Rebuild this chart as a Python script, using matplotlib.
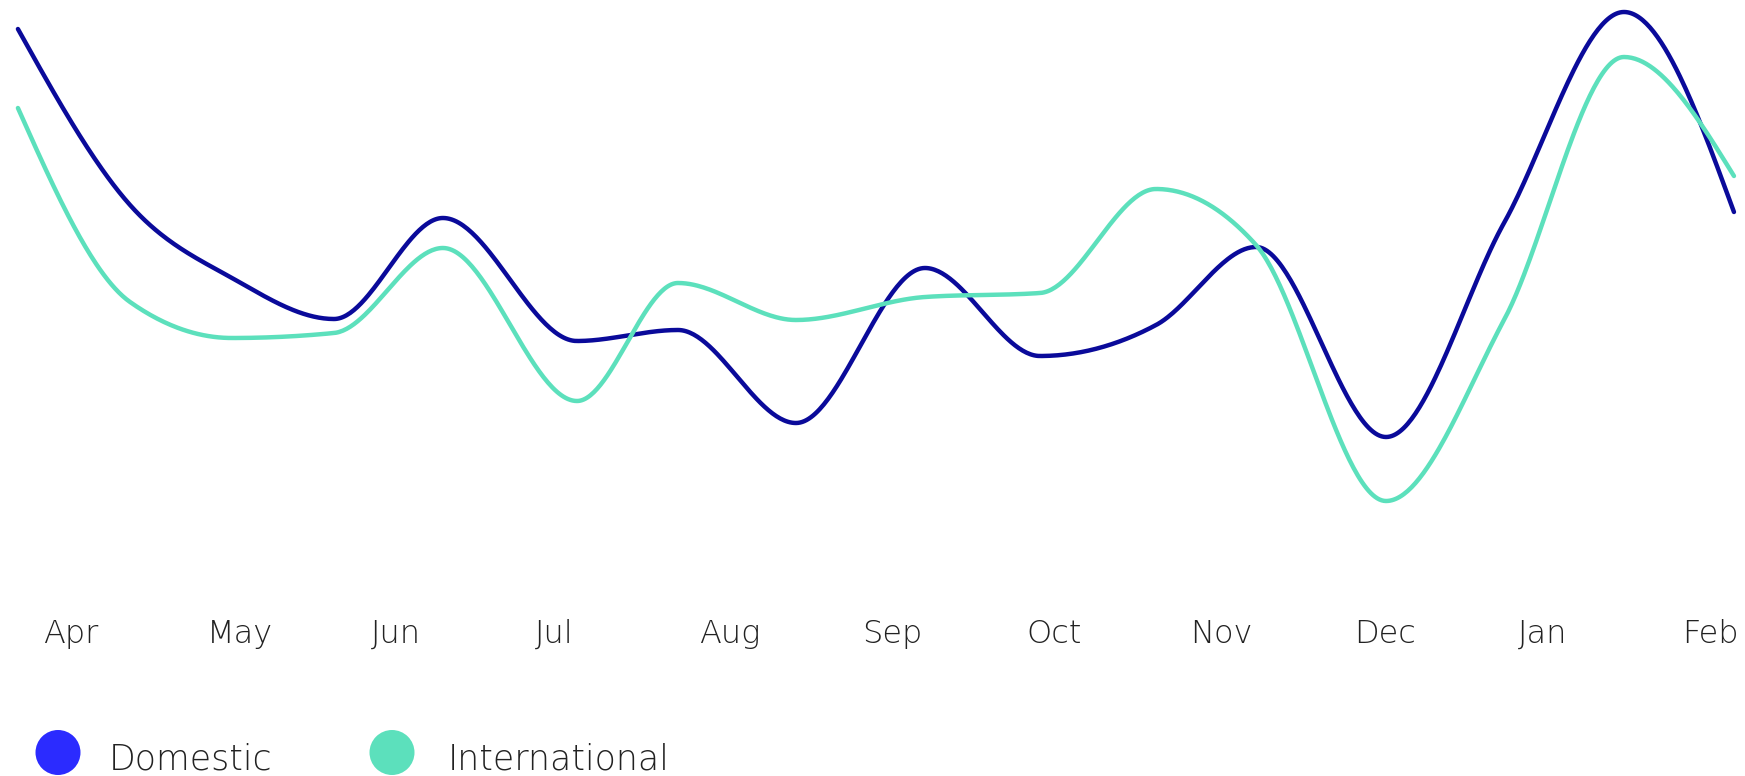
import numpy as np
import matplotlib
matplotlib.use("Agg")
import matplotlib.pyplot as plt
from matplotlib.patches import Ellipse
from matplotlib import transforms

# ---- data ----
months = ["Apr", "May", "Jun", "Jul", "Aug", "Sep", "Oct", "Nov", "Dec", "Jan", "Feb"]
# sample positions, in months since start of April
x_pos = [-0.153, 0.531, 1.153, 1.775, 2.440, 3.258, 3.874, 4.594, 5.381,
         6.083, 6.791, 7.401, 8.194, 8.914, 9.646, 10.317]
domestic = [114.2, 79.0, 64.4, 56.2, 76.4, 51.8, 54.0, 35.4, 66.4,
            48.8, 55.0, 70.6, 32.6, 75.4, 117.6, 77.6]
international = [98.4, 59.6, 52.4, 53.4, 70.4, 39.8, 63.4, 56.0, 60.6,
                 61.4, 82.2, 71.0, 19.8, 56.0, 108.6, 84.8]
series_names = ["Domestic", "International"]
line_colors = ["#0a0a9a", "#5ce0bc"]
legend_colors = ["#2b2bff", "#5ce0bc"]


def monotone_x(x, y, n=60):
    """d3.curveMonotoneX style interpolation."""
    x = np.asarray(x, float)
    y = np.asarray(y, float)
    h = np.diff(x)
    s = np.diff(y) / h
    t = np.zeros_like(y)
    for i in range(1, len(y) - 1):
        h0, h1 = h[i - 1], h[i]
        s0, s1 = s[i - 1], s[i]
        p = (s0 * h1 + s1 * h0) / (h0 + h1)
        t[i] = (np.sign(s0) + np.sign(s1)) * min(abs(s0), abs(s1), 0.5 * abs(p))
    t[0] = (3 * s[0] - t[1]) / 2
    t[-1] = (3 * s[-1] - t[-2]) / 2
    xs, ys = [], []
    for i in range(len(y) - 1):
        u = np.linspace(0, 1, n, endpoint=(i == len(y) - 2))
        hh = h[i]
        h00 = 2 * u**3 - 3 * u**2 + 1
        h10 = u**3 - 2 * u**2 + u
        h01 = -2 * u**3 + 3 * u**2
        h11 = u**3 - u**2
        xs.append(x[i] + u * hh)
        ys.append(h00 * y[i] + h10 * hh * t[i] + h01 * y[i + 1] + h11 * hh * t[i + 1])
    return np.concatenate(xs), np.concatenate(ys)


W, H = 1745, 776
fig = plt.figure(figsize=(W / 100, H / 100), dpi=100)
fig.patch.set_facecolor("white")

ax = fig.add_axes([0, (H - 600) / H, 1, 600 / H])
ax.set_xlim(-43 / 163.9, (W - 43) / 163.9)
ax.set_ylim(0, 120)
ax.axis("off")

for vals, col in zip([domestic, international], line_colors):
    xs, ys = monotone_x(x_pos, vals)
    ax.plot(xs, ys, color=col, lw=3.2, solid_capstyle="round", clip_on=False)

font = ["DejaVu Sans"]
text_color = "#222222"

trans = transforms.blended_transform_factory(ax.transData, fig.transFigure)
for i, m in enumerate(months):
    fig.text(i, 1 - 642.7 / H, m, transform=trans, ha="left", va="baseline",
             fontsize=23, family=font, fontweight="light", color=text_color)

# legend
legend_x = [58, 392]
text_x = [109, 448]
for cx, tx, name, col in zip(legend_x, text_x, series_names, legend_colors):
    fig.add_artist(Ellipse((cx / W, 1 - 752.5 / H), 45 / W, 45 / H,
                           transform=fig.transFigure, color=col, lw=0))
    fig.text(tx / W, 1 - 769 / H, name, ha="left", va="baseline",
             fontsize=25, family=font, fontweight="light", color=text_color)

fig.savefig("out.png", dpi=100, facecolor="white")
